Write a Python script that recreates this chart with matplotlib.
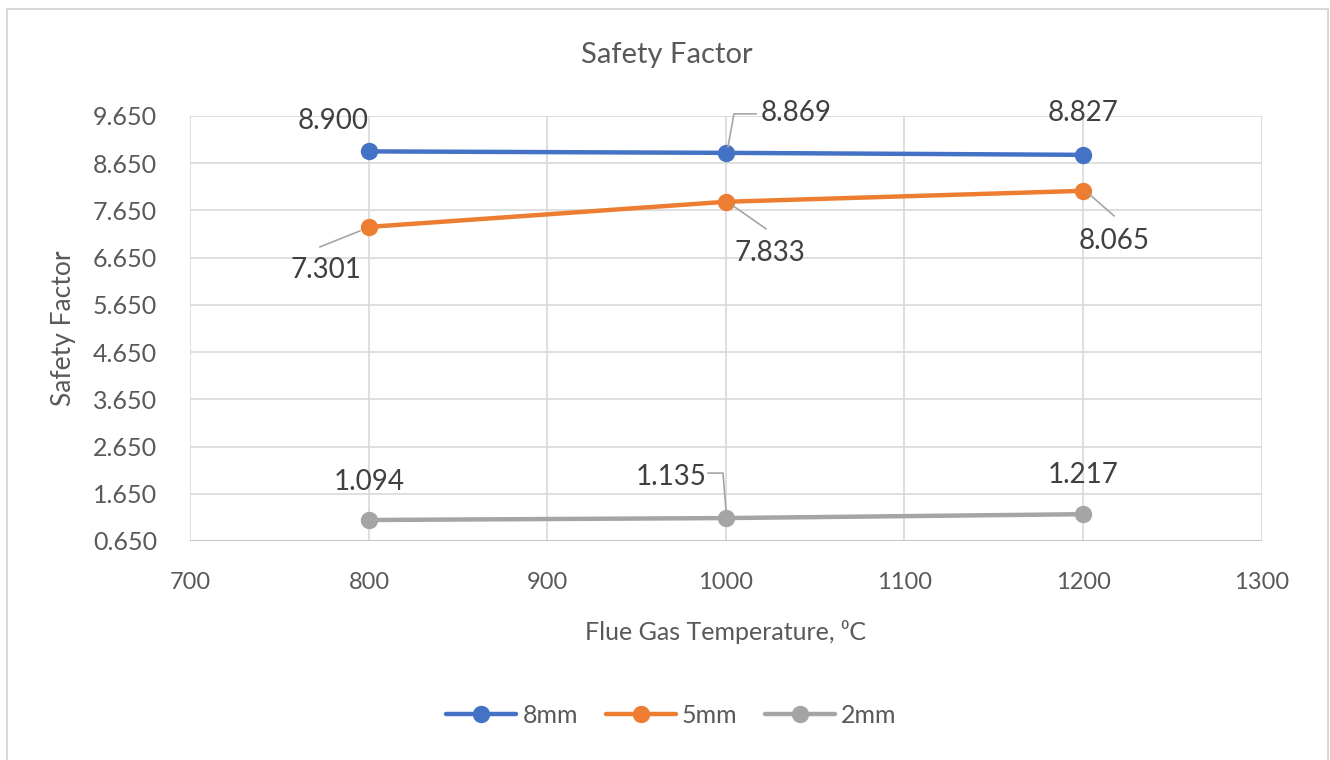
import matplotlib
matplotlib.use("Agg")
import matplotlib.pyplot as plt
from matplotlib.lines import Line2D
from matplotlib.patches import Rectangle
from matplotlib.transforms import IdentityTransform

# Data
temperatures = [800, 1000, 1200]
series_names = ["8mm", "5mm", "2mm"]
sf_8mm = [8.900, 8.869, 8.827]
sf_5mm = [7.301, 7.833, 8.065]
sf_2mm = [1.094, 1.135, 1.217]
x_ticks = [700, 800, 900, 1000, 1100, 1200, 1300]
y_ticks = [0.650, 1.650, 2.650, 3.650, 4.650, 5.650, 6.650, 7.650, 8.650, 9.650]

colors = ["#4472C4", "#ED7D31", "#A5A5A5"]
text_color = "#595959"
grid_color = "#D9D9D9"

plt.rcParams["font.family"] = ["Lato", "DejaVu Sans"]

fig = plt.figure(figsize=(13.3, 7.6), dpi=100)
fig.patch.set_facecolor("white")

# chart frame
fig.patches.append(Rectangle((7 / 1330, -0.05), 1321 / 1330, 1 - 9 / 760 + 0.05,
                             transform=fig.transFigure, fill=False,
                             edgecolor="#D9D9D9", linewidth=1.5))

ax = fig.add_axes([0.1432, 0.2882, 0.8053, 0.5592])
ax.set_xlim(700, 1300)
ax.set_ylim(0.65, 9.65)
ax.set_xticks(x_ticks)
ax.set_yticks(y_ticks)
ax.set_yticklabels([f"{v:.3f}" for v in y_ticks])
ax.grid(True, color=grid_color, linewidth=1.2)
ax.set_axisbelow(True)
for s in ax.spines.values():
    s.set_visible(False)
ax.axhline(0.65, color="#BFBFBF", linewidth=1.2, zorder=1)
ax.tick_params(length=0, colors=text_color)
ax.tick_params(axis="x", pad=22, labelsize=17)
ax.tick_params(axis="y", pad=24, labelsize=18)

all_series = [sf_8mm, sf_5mm, sf_2mm]
for name, vals, c in zip(series_names, all_series, colors):
    ax.plot(temperatures, vals, color=c, linewidth=3.2, marker="o",
            markersize=11.5, label=name, solid_capstyle="round", zorder=3)

fig.text(667 / 1330, 1 - 55 / 760, "Safety Factor", color=text_color, fontsize=21,
         ha="center", va="center")
ax.set_xlabel("Flue Gas Temperature, \u2070C", color=text_color, fontsize=18, labelpad=20)
ax.set_ylabel("Safety Factor", color=text_color, fontsize=19, labelpad=12)

# label offsets (pixels, up positive) and optional leader paths
label_offsets = [
    [(-36, 30), (70, 40), (0, 42)],
    [(-43, -43), (44, -51), (31, -50)],
    [(0, 38), (-55, 41), (0, 39)],
]
leaders = {
    (0, 1): [(2, 6), (8, 39), (30, 39)],
    (1, 0): [(-9, -4), (-49, -20)],
    (1, 1): [(7, -4), (40, -27)],
    (1, 2): [(7, -4), (31, -25)],
    (2, 1): [(0, 8), (-3, 45), (-18, 45)],
}

fig.canvas.draw()
for si, vals in enumerate(all_series):
    for pi, (x, v) in enumerate(zip(temperatures, vals)):
        dx, dy = label_offsets[si][pi]
        ax.annotate(f"{v:.3f}", xy=(x, v), xytext=(dx, dy),
                    textcoords="offset pixels", ha="center", va="center",
                    fontsize=20, color="#404040", zorder=5)
        if (si, pi) in leaders:
            px, py = ax.transData.transform((x, v))
            pts = leaders[(si, pi)]
            fig.add_artist(Line2D([px + p[0] for p in pts], [py + p[1] for p in pts],
                                  transform=IdentityTransform(), color="#A6A6A6",
                                  linewidth=1.2, zorder=4))

fig.legend(loc="center", bbox_to_anchor=(0.505, 0.059), ncol=3, frameon=False,
           fontsize=18, labelcolor=text_color, handlelength=2.8, columnspacing=1.1,
           handletextpad=0.25)

fig.savefig("out.png", dpi=100)
